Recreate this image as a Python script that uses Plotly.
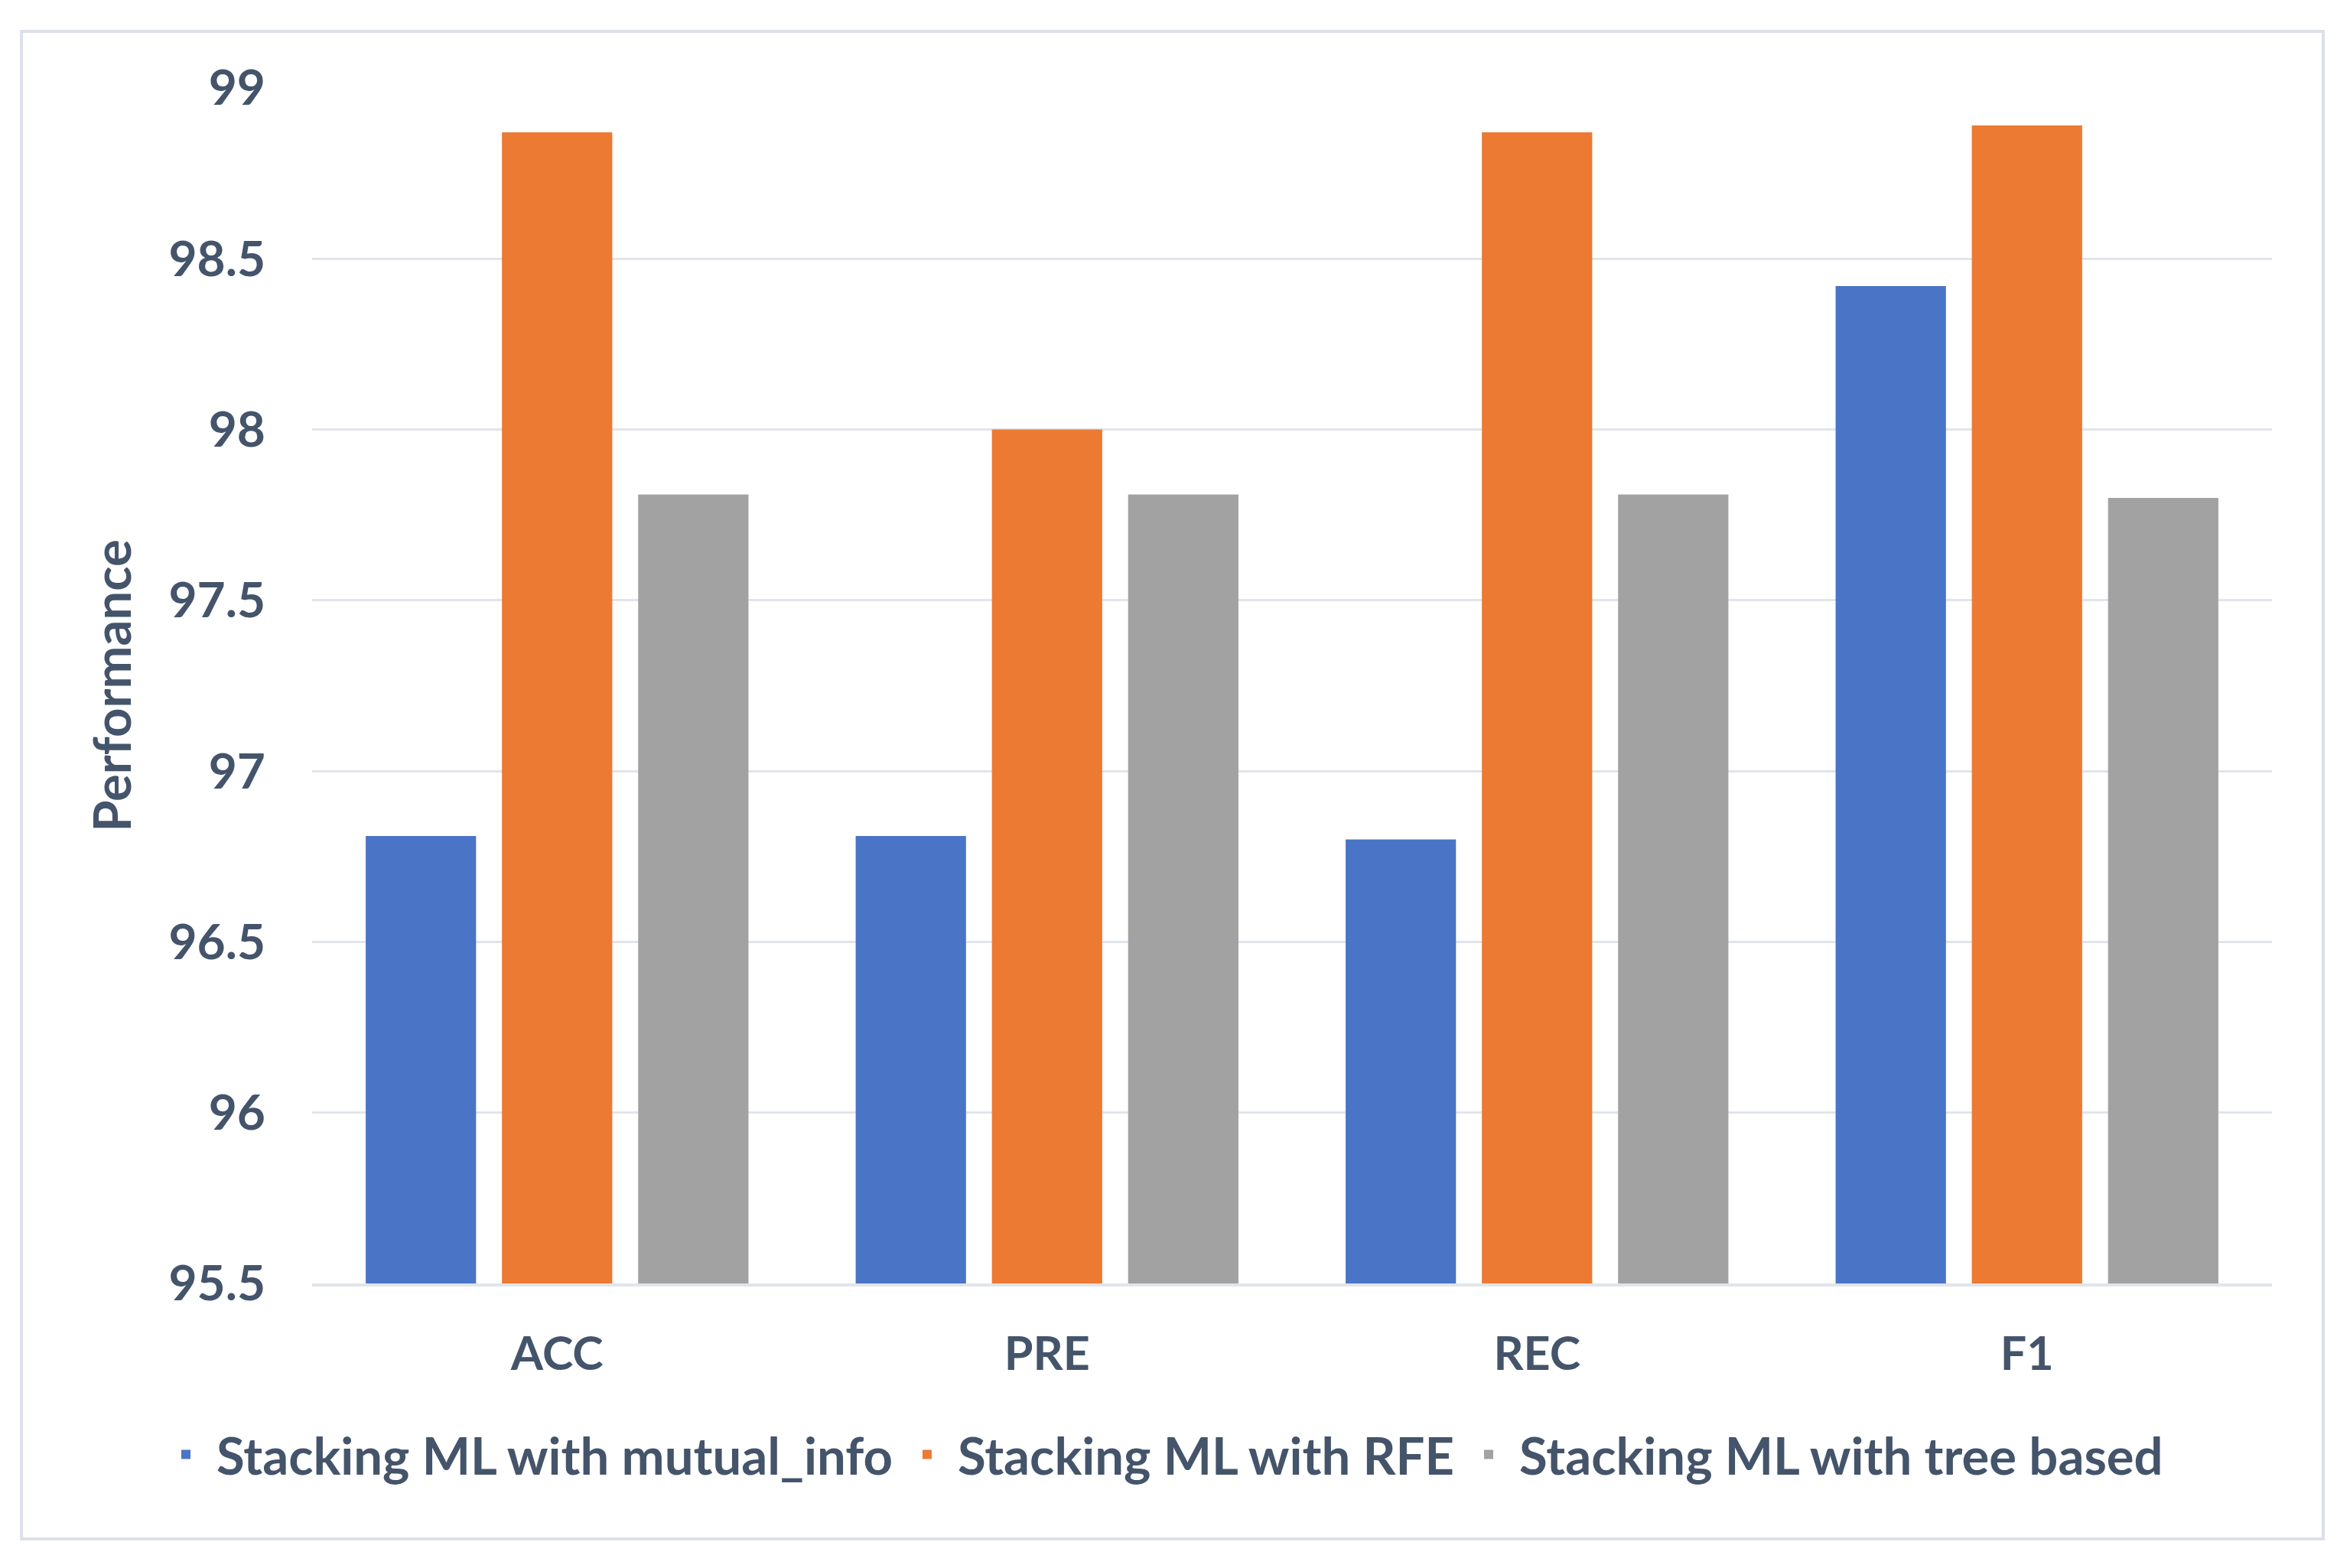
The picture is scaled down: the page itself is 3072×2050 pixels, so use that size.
import plotly.graph_objects as go

categories = ["ACC", "PRE", "REC", "F1"]
series_names = [
    "Stacking ML with mutual_info",
    "Stacking ML with RFE",
    "Stacking ML with tree based",
]
mutual_info = [96.81, 96.81, 96.80, 98.42]
rfe = [98.87, 98.00, 98.87, 98.89]
tree_based = [97.81, 97.81, 97.81, 97.80]
y_ticks = [95.5, 96, 96.5, 97, 97.5, 98, 98.5, 99]

colors = ["#4A74C6", "#EC7A32", "#A2A2A2"]
text_color = "#44546A"
grid_color = "#E1E4EB"
font_family = "Lato, 'Open Sans', sans-serif"

W, H = 3072, 2050
ml, mr, mt, mb = 408, 102, 115, 372
pw, ph = W - ml - mr, H - mt - mb

fig = go.Figure()
for name, vals, col in zip(series_names, [mutual_info, rfe, tree_based], colors):
    fig.add_trace(go.Bar(
        x=categories, y=vals, name=name,
        marker=dict(color=col, line=dict(width=0)),
    ))

def px_x(p):
    return (p - ml) / pw

def px_y(p):
    return (H - mb - p) / ph

fig.update_layout(
    width=W, height=H,
    margin=dict(l=ml, r=mr, t=mt, b=mb),
    paper_bgcolor="white", plot_bgcolor="white",
    barmode="group", bargap=0.166, bargroupgap=0.19,
    font=dict(family=font_family, color=text_color, size=62, weight=700),
    xaxis=dict(
        showgrid=False, showline=True, linecolor=grid_color, linewidth=4,
        ticks="", ticklabelstandoff=36,
        tickfont=dict(size=61, family=font_family, color=text_color, weight=700),
    ),
    yaxis=dict(
        range=[95.5, 99], tickvals=y_ticks, ticktext=[f"{v:g}" for v in y_ticks],
        showgrid=True, gridcolor=grid_color, gridwidth=3,
        zeroline=False, showline=False, ticks="", ticklabelstandoff=60,
        tickfont=dict(size=64, family=font_family, color=text_color, weight=700),
        title=dict(text="Performance", standoff=26,
                   font=dict(size=67, family=font_family, color=text_color, weight=700)),
    ),
    legend=dict(
        orientation="h", xref="paper", yref="paper",
        x=px_x(203), xanchor="left", y=px_y(1902), yanchor="middle",
        font=dict(size=67, family=font_family, color=text_color, weight=700),
        bgcolor="rgba(0,0,0,0)", itemwidth=70,
    ),
    shapes=[dict(
        type="rect", xref="paper", yref="paper",
        x0=px_x(28), x1=px_x(3037), y0=px_y(2012), y1=px_y(41),
        line=dict(color="#DCE0E8", width=4), fillcolor="rgba(0,0,0,0)", layer="below",
    )],
    showlegend=True,
)

fig.write_html("out.html", config={"displayModeBar": False},
               post_script="document.body.style.margin='0px';")
